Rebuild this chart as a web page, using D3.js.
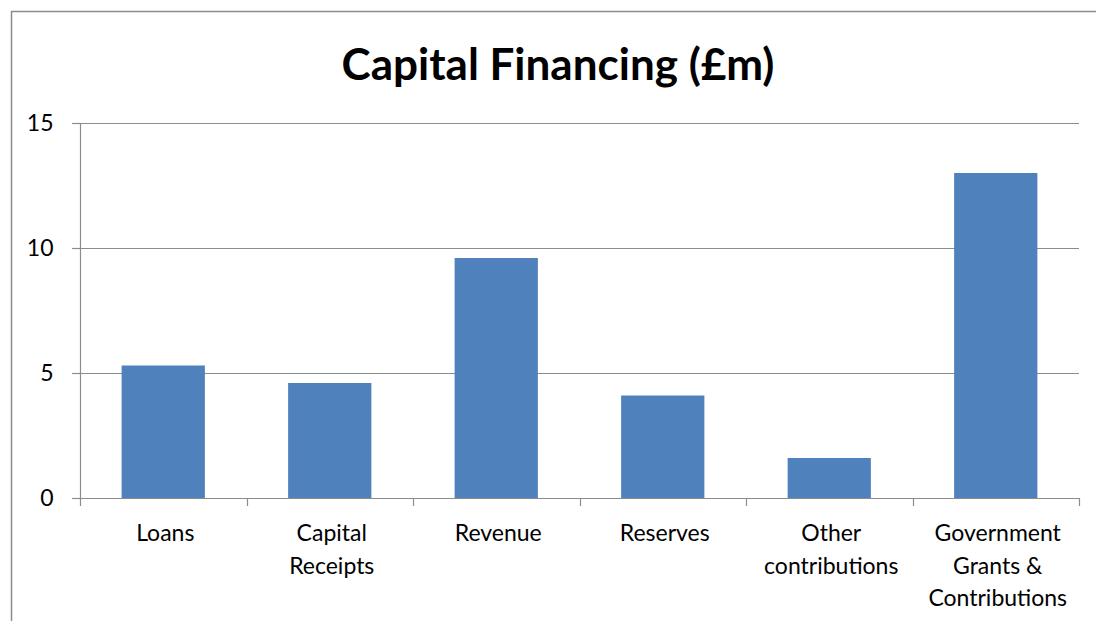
<!DOCTYPE html>
<html>
<head>
<meta charset="utf-8">
<script src="https://cdn.jsdelivr.net/npm/d3@7"></script>
<style>
  body { margin: 0; background: #fff; }
  svg { display: block; font-family: Lato, "Open Sans", sans-serif; }
</style>
</head>
<body>
<svg width="1096" height="621"></svg>
<script>
// category labels, one array entry per wrapped line
const categories = [
  ["Loans"],
  ["Capital", "Receipts"],
  ["Revenue"],
  ["Reserves"],
  ["Other", "contributions"],
  ["Government", "Grants &", "Contributions"]
];
const values = [5.3, 4.6, 9.6, 4.1, 1.6, 13.0];
const yTicks = [0, 5, 10, 15];

const svg = d3.select("svg");
const plotLeft = 80, plotRight = 1079, plotTop = 123, plotBottom = 498;

// outer chart frame (runs off the right/bottom edge)
svg.append("path")
  .attr("d", "M11.5,640 V11.5 H1120")
  .attr("fill", "none")
  .attr("stroke", "#8c8c8c")
  .attr("stroke-width", 1.5);

svg.append("text")
  .attr("x", 558)
  .attr("y", 80)
  .attr("text-anchor", "middle")
  .attr("font-size", 44)
  .attr("font-weight", "bold")
  .text("Capital Financing (£m)");

const x = d3.scaleBand()
  .domain(d3.range(categories.length))
  .range([plotLeft, plotRight])
  .paddingInner(0.5)
  .paddingOuter(0.25);

const xCat = d3.scaleBand()
  .domain(d3.range(categories.length))
  .range([plotLeft, plotRight]);

const y = d3.scaleLinear().domain([0, 15]).range([plotBottom, plotTop]);

// gridlines
svg.append("g")
  .selectAll("line")
  .data(yTicks.filter(d => d > 0))
  .join("line")
  .attr("x1", plotLeft - 8).attr("x2", plotRight)
  .attr("y1", d => Math.round(y(d)) + 0.5).attr("y2", d => Math.round(y(d)) + 0.5)
  .attr("stroke", "#8c8c8c")
  .attr("stroke-width", 1.2);

// bars
svg.append("g")
  .selectAll("rect")
  .data(values)
  .join("rect")
  .attr("x", (d, i) => x(i))
  .attr("width", x.bandwidth())
  .attr("y", d => y(d))
  .attr("height", d => y(0) - y(d))
  .attr("fill", "#4f81bd");

// y axis
const yAxis = svg.append("g")
  .attr("transform", `translate(${plotLeft + 0.5},0)`)
  .call(d3.axisLeft(y).tickValues(yTicks).tickSize(8).tickPadding(19));
yAxis.selectAll("line, path").attr("stroke", "#8c8c8c").attr("stroke-width", 1.2);
yAxis.select(".domain").attr("d", `M0,${plotTop}V${plotBottom}`);
yAxis.selectAll("text").attr("font-size", 23).attr("fill", "#000")
  .attr("font-family", "Lato, 'Open Sans', sans-serif");

// x axis line and tick marks at category boundaries
svg.append("line")
  .attr("x1", plotLeft - 8).attr("x2", plotRight)
  .attr("y1", plotBottom + 0.5).attr("y2", plotBottom + 0.5)
  .attr("stroke", "#8c8c8c").attr("stroke-width", 1.2);
svg.append("g")
  .selectAll("line")
  .data(d3.range(categories.length + 1))
  .join("line")
  .attr("x1", i => Math.round(plotLeft + i * xCat.step()) + 0.5)
  .attr("x2", i => Math.round(plotLeft + i * xCat.step()) + 0.5)
  .attr("y1", plotBottom).attr("y2", plotBottom + 8)
  .attr("stroke", "#8c8c8c").attr("stroke-width", 1.2);

// category labels
const labels = svg.append("g")
  .selectAll("text")
  .data(categories)
  .join("text")
  .attr("x", (d, i) => xCat(i) + xCat.bandwidth() / 2 + 2)
  .attr("y", 541)
  .attr("text-anchor", "middle")
  .attr("font-size", 23);
labels.selectAll("tspan")
  .data(d => d)
  .join("tspan")
  .attr("x", function () { return this.parentNode.getAttribute("x"); })
  .attr("dy", (d, i) => i === 0 ? 0 : 32.5)
  .text(d => d);
</script>
</body>
</html>
